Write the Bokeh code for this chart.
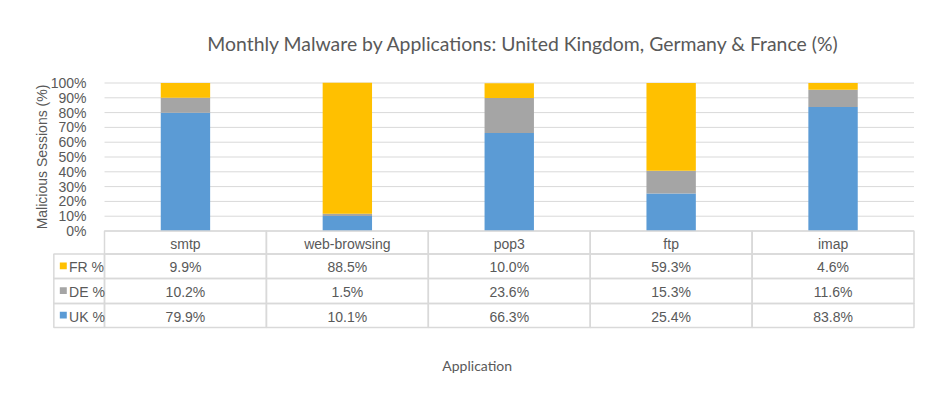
import math
from bokeh.plotting import figure
from bokeh.models import ColumnDataSource, Range1d, FixedTicker, PrintfTickFormatter, Label
from bokeh.embed import file_html
from bokeh.resources import INLINE
from bokeh.core.properties import value

# ---------------- data ----------------
categories = ["smtp", "web-browsing", "pop3", "ftp", "imap"]
uk_pct = [79.9, 10.1, 66.3, 25.4, 83.8]
de_pct = [10.2, 1.5, 23.6, 15.3, 11.6]
fr_pct = [9.9, 88.5, 10.0, 59.3, 4.6]
series_names = ["UK %", "DE %", "FR %"]
series_colors = ["#5B9BD5", "#A5A5A5", "#FFC000"]
y_ticks = [0, 10, 20, 30, 40, 50, 60, 70, 80, 90, 100]
title_text = "Monthly Malware by Applications: United Kingdom, Germany & France (%)"
y_label = "Malicious Sessions (%)"
x_label = "Application"

# ---------------- styling ----------------
TXT = "#595959"
BORDER = "#D9D9D9"
SANS = "Liberation Sans"
CAL = "Lato"

n = len(categories)
xc = [i + 0.5 for i in range(n)]
src = ColumnDataSource(dict(x=xc, cat=categories, uk=uk_pct, de=de_pct, fr=fr_pct))

p = figure(width=927, height=380,
           x_range=Range1d(-0.6424, 5.0834),
           y_range=Range1d(-101.0, 155.74),
           output_backend="svg", toolbar_location=None,
           min_border=0, min_border_left=0, min_border_right=0,
           min_border_top=0, min_border_bottom=0)
p.outline_line_color = None
p.background_fill_color = "white"
p.border_fill_color = "white"

p.xaxis.visible = False
p.xgrid.visible = False
p.ygrid.visible = False

ax = p.yaxis[0]
ax.fixed_location = 0
ax.ticker = FixedTicker(ticks=y_ticks)
ax.bounds = (0, 100)
ax.formatter = PrintfTickFormatter(format="%d%%")
ax.axis_line_color = None
ax.major_tick_line_color = None
ax.minor_tick_line_color = None
ax.major_label_standoff = 12
ax.major_label_text_font = SANS
ax.major_label_text_font_size = "14px"
ax.major_label_text_color = TXT

# horizontal gridlines at the tick values, across the category area
p.segment(x0=[0] * len(y_ticks), x1=[n] * len(y_ticks), y0=y_ticks, y1=y_ticks,
          line_color=BORDER, line_width=1)

# stacked bars
p.vbar_stack(["uk", "de", "fr"], x="x", width=0.305, source=src,
             fill_color=series_colors, line_color=None)

# ---------------- data table below the chart ----------------
row_edges = [0, -15.5, -32.1, -49.0, -65.2]   # header, FR, DE, UK
row_series = [fr_pct, de_pct, uk_pct]
row_names = ["FR %", "DE %", "UK %"]
row_colors = ["#FFC000", "#A5A5A5", "#5B9BD5"]
leg_left = -0.313

ql, qr, qt, qb = [], [], [], []
for r in range(4):
    for i in range(n):
        ql.append(i); qr.append(i + 1)
        qt.append(row_edges[r]); qb.append(row_edges[r + 1])
for r in range(3):
    ql.append(leg_left); qr.append(0)
    qt.append(row_edges[r + 1]); qb.append(row_edges[r + 2])
p.quad(left=ql, right=qr, top=qt, bottom=qb, fill_color=None,
       line_color=BORDER, line_width=1.5)

tx, ty, tt = [], [], []
hc = (row_edges[0] + row_edges[1]) / 2 - 1.0
for x, c in zip(xc, categories):
    tx.append(x); ty.append(hc); tt.append(c)
row_centers = []
for r, vals in enumerate(row_series):
    yc = (row_edges[r + 1] + row_edges[r + 2]) / 2
    row_centers.append(yc)
    for x, v in zip(xc, vals):
        tx.append(x); ty.append(yc - 0.8); tt.append(f"{v:.1f}%")
p.text(x=tx, y=ty, text=tt, text_align="center", text_baseline="middle",
       text_font=value(SANS), text_font_size="14px", text_color=TXT)

# legend swatches and names in the table's first column
p.quad(left=[-0.276] * 3, right=[-0.233] * 3,
       top=[y + 2.6 for y in row_centers], bottom=[y - 2.0 for y in row_centers],
       fill_color=row_colors, line_color=None)
p.text(x=[-0.219] * 3, y=[y - 0.8 for y in row_centers], text=row_names,
       text_align="left", text_baseline="middle", text_font=value(SANS),
       text_font_size="14px", text_color=TXT)

# titles
p.add_layout(Label(x=2.588, y=126.7, text=title_text, text_align="center",
                   text_baseline="middle", text_font=CAL, text_font_size="19.4px",
                   text_color=TXT))
p.add_layout(Label(x=-0.383, y=50, text=y_label, angle=math.pi / 2,
                   text_align="center", text_baseline="middle", text_font=SANS,
                   text_font_size="14px", text_color=TXT))
p.add_layout(Label(x=2.302, y=-90.9, text=x_label, text_align="center",
                   text_baseline="middle", text_font=CAL, text_font_size="14px",
                   text_color=TXT))

open("out.html", "w").write(file_html(p, INLINE))
